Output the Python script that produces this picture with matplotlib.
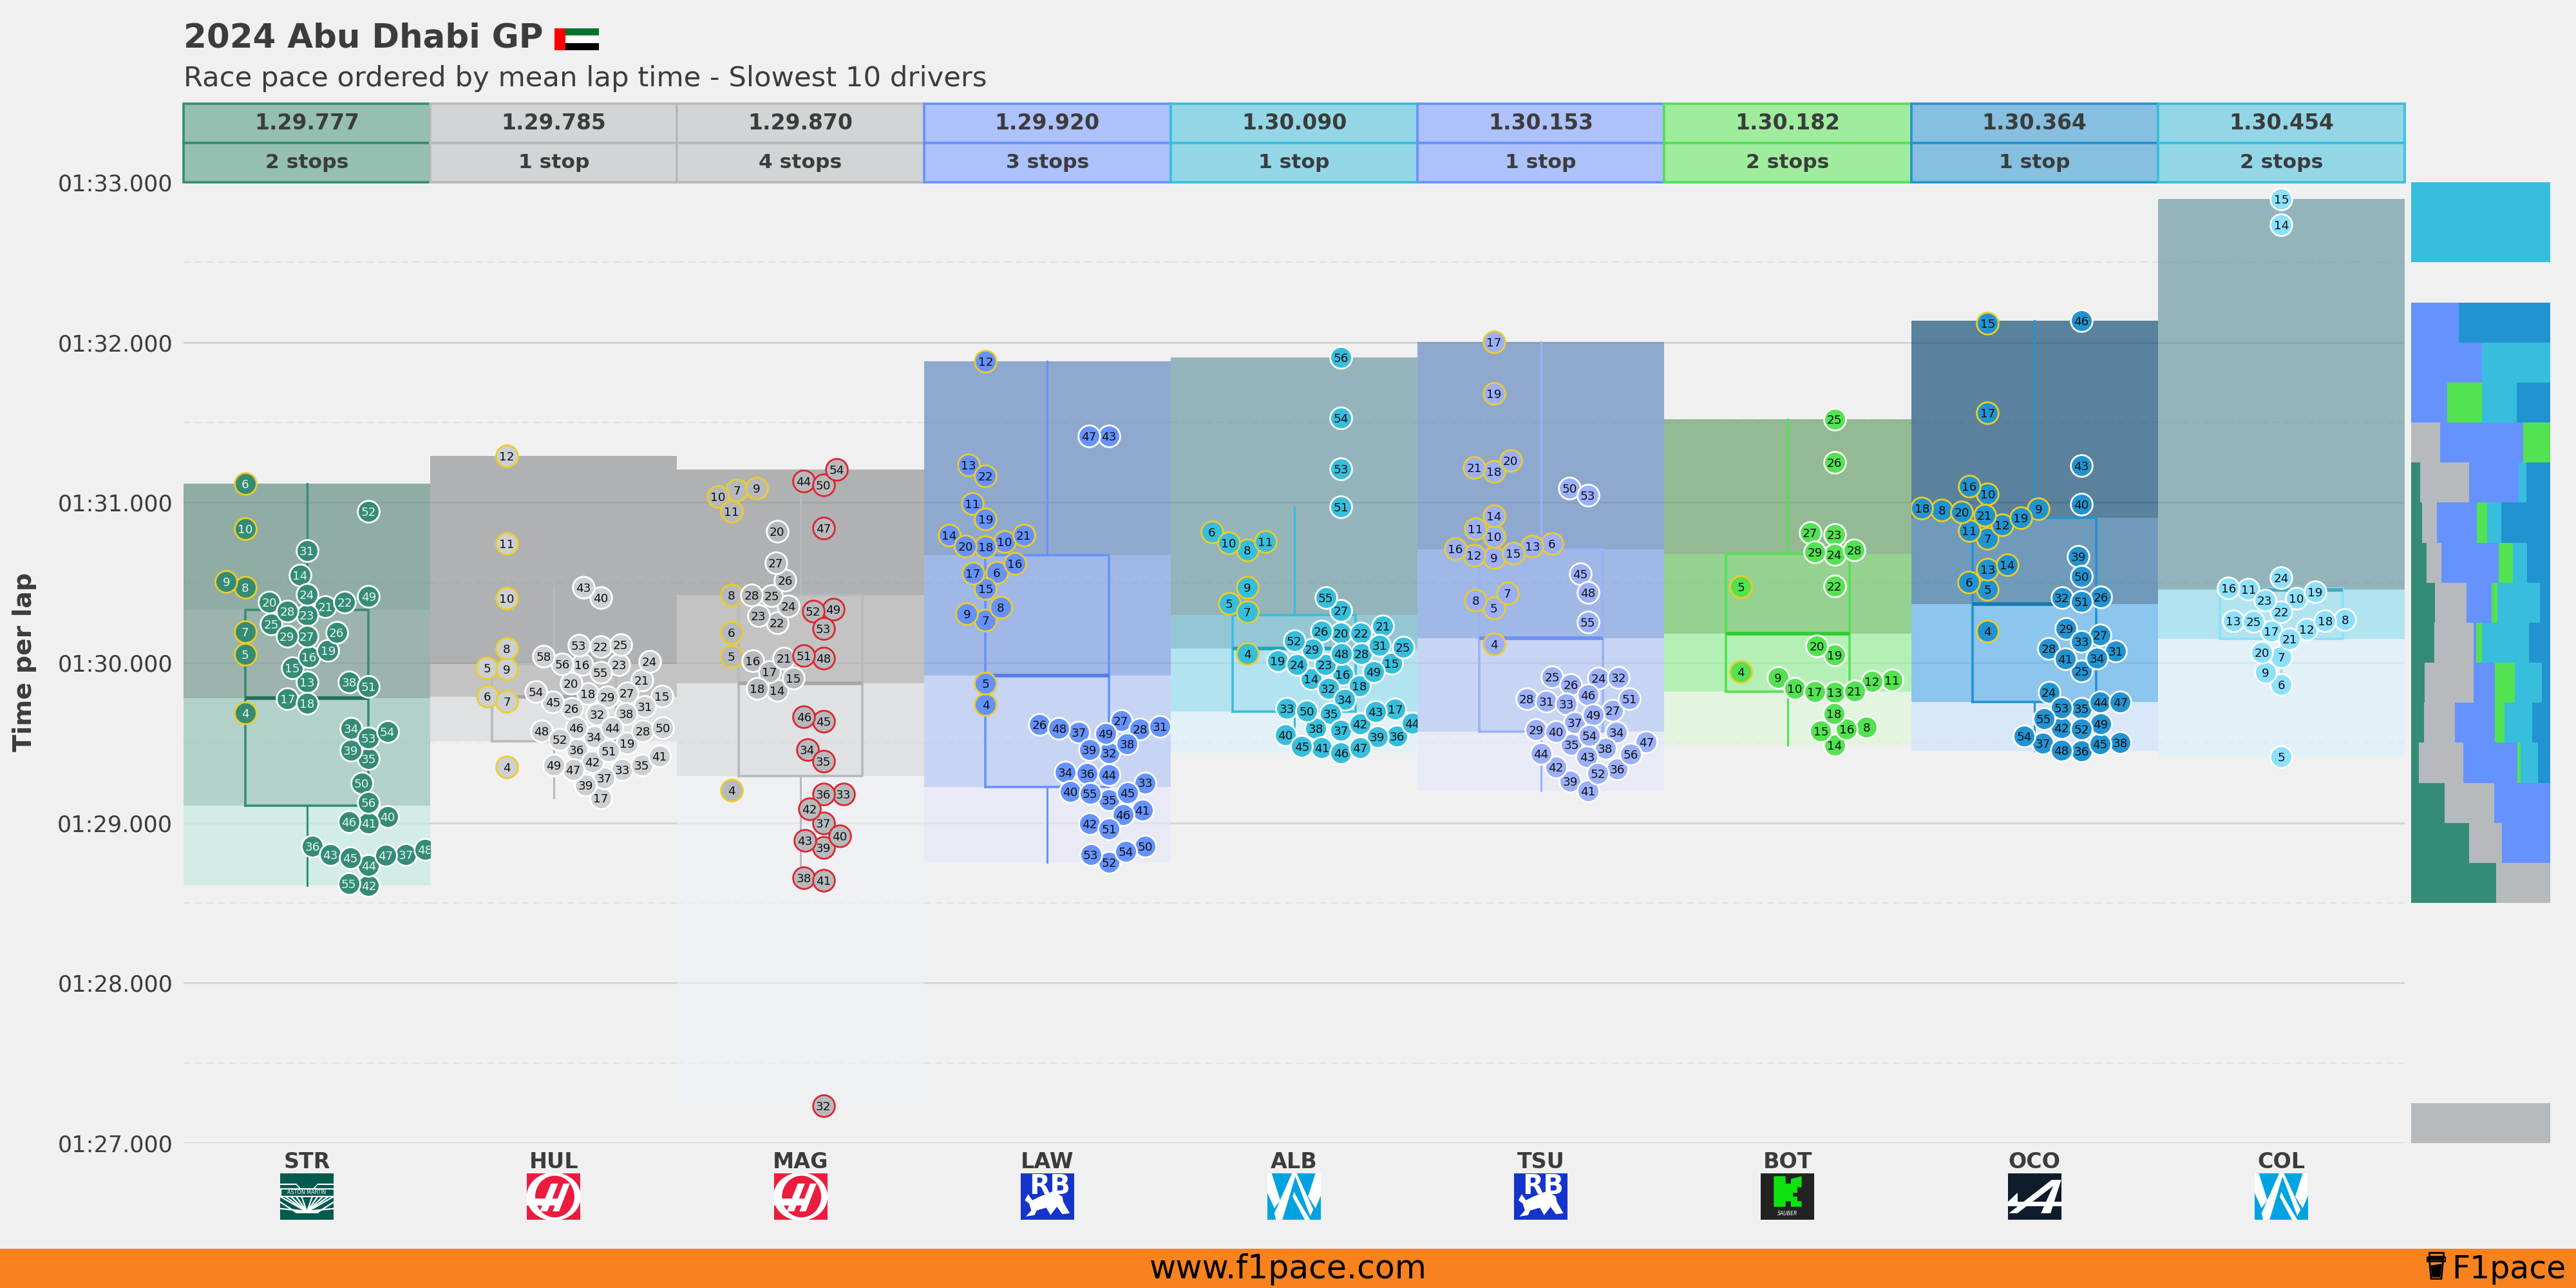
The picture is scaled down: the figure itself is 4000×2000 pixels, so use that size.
import numpy as np
import matplotlib
matplotlib.use("Agg")
import matplotlib.pyplot as plt
from matplotlib.patches import Ellipse, Polygon, Rectangle
from matplotlib.ticker import FuncFormatter, MultipleLocator

W, H = 4000, 2000
BG = "#f0f0f0"
TXT = "#3c3c3c"

# lap numbers and lap times (s), one pair of lists per stint
str_laps_1 = [6, 10, 9, 8, 7, 5, 4]
str_times_1 = [91.119, 90.836, 90.506, 90.469, 90.193, 90.051, 89.686]
str_laps_2 = [31, 14, 24, 22, 20, 21, 28, 23, 25, 26, 29, 27, 19, 16, 15, 13, 17, 18]
str_times_2 = [90.699, 90.545, 90.428, 90.379, 90.377, 90.348, 90.322, 90.299, 90.242, 90.189, 90.164, 90.164,
               90.076, 90.035, 89.967, 89.881, 89.775, 89.748]
str_laps_3 = [52, 49, 38, 51, 34, 54, 53, 39, 35, 50, 56, 40, 46, 41, 36, 48, 37, 43, 47, 45, 44, 55, 42]
str_times_3 = [90.947, 90.414, 89.879, 89.850, 89.590, 89.570, 89.529, 89.455, 89.400, 89.246, 89.129, 89.039,
               89.008, 88.998, 88.855, 88.834, 88.801, 88.803, 88.799, 88.781, 88.734, 88.621, 88.607]

hul_laps_1 = [12, 11, 10, 8, 5, 9, 6, 7, 4]
hul_times_1 = [91.289, 90.744, 90.402, 90.090, 89.969, 89.961, 89.789, 89.760, 89.350]
hul_laps_2 = [43, 40, 25, 53, 22, 58, 24, 56, 23, 16, 55, 21, 20, 54, 27, 18, 15, 29, 45, 31, 26, 38, 32, 46, 50,
              44, 28, 48, 34, 52, 19, 36, 51, 41, 42, 35, 49, 33, 47, 37, 39, 17]
hul_times_2 = [90.471, 90.406, 90.113, 90.109, 90.102, 90.041, 90.008, 89.990, 89.988, 89.986, 89.941, 89.893,
               89.873, 89.820, 89.809, 89.807, 89.789, 89.785, 89.756, 89.727, 89.715, 89.684, 89.678, 89.594,
               89.594, 89.594, 89.574, 89.574, 89.537, 89.520, 89.498, 89.457, 89.451, 89.416, 89.379, 89.359,
               89.361, 89.334, 89.334, 89.279, 89.236, 89.154]

mag_laps_1 = [7, 9, 10, 11, 8, 6, 5, 4]
mag_times_1 = [91.078, 91.090, 91.037, 90.945, 90.424, 90.189, 90.041, 89.203]
mag_laps_2 = [20, 27, 26, 28, 25, 24, 23, 22, 19, 21, 16, 17, 15, 18, 14]
mag_times_2 = [90.822, 90.625, 90.514, 90.422, 90.420, 90.352, 90.295, 90.250, 90.041, 90.029, 90.012, 89.943,
               89.902, 89.838, 89.828]
mag_laps_3 = [54, 44, 50, 47, 49, 52, 53, 51, 48, 46, 45, 34, 35, 33, 36, 42, 37, 40, 43, 39, 38, 41, 32]
mag_times_3 = [91.205, 91.133, 91.111, 90.842, 90.332, 90.322, 90.215, 90.043, 90.029, 89.662, 89.635, 89.459,
               89.385, 89.178, 89.178, 89.088, 88.998, 88.920, 88.891, 88.846, 88.656, 88.641, 87.234]

law_laps_1 = [12, 13, 22, 11, 19, 21, 14, 10, 20, 18, 16, 6, 17, 15, 8, 9, 7, 5, 4]
law_times_1 = [91.884, 91.234, 91.168, 90.992, 90.898, 90.797, 90.797, 90.758, 90.727, 90.723, 90.621, 90.564,
               90.557, 90.461, 90.346, 90.305, 90.264, 89.871, 89.740]
law_laps_2 = [43, 47, 27, 26, 31, 48, 28, 37, 49, 38, 39, 32, 34, 36, 44, 33, 40, 45, 55, 35, 41, 46, 42, 51, 50,
              54, 53, 52]
law_times_2 = [91.416, 91.416, 89.639, 89.615, 89.600, 89.588, 89.586, 89.564, 89.559, 89.492, 89.459, 89.436,
               89.316, 89.307, 89.299, 89.250, 89.195, 89.189, 89.184, 89.143, 89.080, 89.051, 88.994, 88.961,
               88.852, 88.820, 88.803, 88.752]

alb_laps_1 = [6, 11, 10, 8, 9, 5, 7, 4]
alb_times_1 = [90.815, 90.757, 90.747, 90.704, 90.470, 90.370, 90.317, 90.058]
alb_laps_2 = [56, 54, 53, 51, 55, 27, 21, 26, 22, 20, 52, 31, 25, 29, 48, 28, 19, 15, 24, 23, 49, 16, 14, 18, 32,
              34, 33, 17, 50, 43, 35, 44, 42, 38, 37, 40, 36, 39, 45, 41, 47, 46]
alb_times_2 = [91.907, 91.528, 91.210, 90.972, 90.407, 90.327, 90.231, 90.198, 90.185, 90.183, 90.136, 90.108,
               90.097, 90.083, 90.058, 90.058, 90.013, 89.995, 89.989, 89.987, 89.944, 89.927, 89.899, 89.856,
               89.839, 89.769, 89.714, 89.710, 89.700, 89.696, 89.683, 89.622, 89.616, 89.589, 89.577, 89.548,
               89.540, 89.536, 89.476, 89.470, 89.470, 89.437]

tsu_laps_1 = [17, 19, 20, 21, 18, 14, 11, 10, 6, 13, 16, 15, 12, 9, 7, 8, 5, 4]
tsu_times_1 = [92.003, 91.679, 91.263, 91.218, 91.194, 90.917, 90.835, 90.790, 90.745, 90.726, 90.712, 90.683,
               90.673, 90.657, 90.435, 90.390, 90.343, 90.116]
tsu_laps_2 = [50, 53, 45, 48, 55, 25, 32, 24, 26, 46, 28, 51, 31, 33, 27, 49, 37, 29, 40, 34, 54, 47, 35, 38, 44,
              56, 43, 42, 36, 52, 39, 41]
tsu_times_2 = [91.091, 91.044, 90.556, 90.440, 90.255, 89.911, 89.907, 89.905, 89.864, 89.800, 89.776, 89.774,
               89.757, 89.741, 89.704, 89.673, 89.628, 89.583, 89.569, 89.567, 89.544, 89.505, 89.491, 89.464,
               89.431, 89.427, 89.413, 89.347, 89.335, 89.308, 89.261, 89.200]

bot_laps_1 = [5, 4]
bot_times_1 = [90.475, 89.945]
bot_laps_2 = [25, 26, 27, 23, 28, 29, 24, 22, 20, 19, 9, 11, 12, 10, 21, 17, 13, 18, 8, 16, 15, 14]
bot_times_2 = [91.520, 91.252, 90.814, 90.801, 90.703, 90.693, 90.674, 90.477, 90.105, 90.047, 89.906, 89.893,
               89.885, 89.838, 89.824, 89.820, 89.816, 89.682, 89.596, 89.584, 89.574, 89.484]

oco_laps_1 = [15, 17, 16, 10, 18, 9, 8, 20, 21, 19, 12, 11, 7, 14, 13, 6, 5, 4]
oco_times_1 = [92.119, 91.561, 91.100, 91.053, 90.965, 90.961, 90.955, 90.941, 90.922, 90.904, 90.861, 90.826,
               90.775, 90.611, 90.584, 90.504, 90.459, 90.197]
oco_laps_2 = [46, 43, 40, 39, 50, 26, 32, 51, 29, 27, 33, 28, 31, 34, 41, 25, 24, 47, 44, 53, 35, 55, 49, 42, 52,
              54, 38, 37, 45, 48, 36]
oco_times_2 = [92.135, 91.232, 90.988, 90.662, 90.539, 90.412, 90.406, 90.381, 90.213, 90.172, 90.133, 90.090,
               90.074, 90.027, 90.023, 89.949, 89.816, 89.756, 89.754, 89.719, 89.715, 89.650, 89.619, 89.592,
               89.584, 89.541, 89.500, 89.498, 89.492, 89.455, 89.449]

col_laps_1 = [15, 14, 24, 16, 11, 19, 10, 23, 22, 8, 13, 18, 25, 12, 17, 21, 20, 7, 9, 6, 5]
col_times_1 = [92.895, 92.735, 90.531, 90.466, 90.460, 90.442, 90.402, 90.389, 90.319, 90.269, 90.263, 90.260,
               90.257, 90.211, 90.199, 90.149, 90.066, 90.035, 89.940, 89.863, 89.411]

drivers = ["STR", "HUL", "MAG", "LAW", "ALB", "TSU", "BOT", "OCO", "COL"]
median_labels = ["1.29.777", "1.29.785", "1.29.870", "1.29.920", "1.30.090", "1.30.153", "1.30.182", "1.30.364", "1.30.454"]
stop_labels = ["2 stops", "1 stop", "4 stops", "3 stops", "1 stop", "1 stop", "2 stops", "1 stop", "2 stops"]

# box stats (s)
lap_max = [91.119, 91.289, 91.205, 91.884, 91.907, 92.003, 91.520, 92.135, 92.895]
q3 = [90.328, 89.990, 90.424, 90.672, 90.296, 90.708, 90.678, 90.904, 90.462]
median = [89.777, 89.785, 89.870, 89.920, 90.090, 90.153, 90.182, 90.364, 90.454]
q1 = [89.107, 89.508, 89.293, 89.225, 89.695, 89.569, 89.820, 89.756, 90.150]
lap_min = [88.607, 89.154, 87.234, 88.752, 89.437, 89.200, 89.484, 89.449, 89.411]
whisker_hi = [91.119, 90.471, 91.205, 91.884, 90.972, 92.003, 91.520, 92.135, 90.531]
whisker_lo = [88.607, 89.154, 88.641, 88.752, 89.437, 89.200, 89.484, 89.449, 89.863]

# share of laps per team in each time bin, right hand panel
bin_lows = [87.0, 88.5, 88.75, 89.0, 89.25, 89.5, 89.75, 90.0, 90.25, 90.5, 90.75, 91.0, 91.25, 91.5, 91.75, 92.0, 92.5, 92.75]
share_aston = [0, .609, .418, .242, .056, .091, .095, .168, .172, .112, .081, .066, 0, 0, 0, 0, 0, 0]
share_haas = [1, .391, .236, .354, .319, .222, .352, .282, .224, .104, .106, .352, .207, 0, 0, 0, 0, 0]
share_rb = [0, 0, .346, .404, .389, .288, .157, .019, .184, .414, .286, .354, .6, .257, .509, .342, 0, 0]
share_kick = [0, 0, 0, 0, .023, .068, .141, .041, .041, .101, .072, 0, .193, .253, 0, 0, 0, 0]
share_williams = [0, 0, 0, 0, .124, .203, .193, .337, .306, .104, .104, .058, 0, .248, .491, 0, 1, 1]
share_alpine = [0, 0, 0, 0, .089, .128, .062, .153, .072, .166, .352, .168, 0, .242, 0, .658, 0, 0]

all_stints = [
    [(str_laps_1, str_times_1), (str_laps_2, str_times_2), (str_laps_3, str_times_3)],
    [(hul_laps_1, hul_times_1), (hul_laps_2, hul_times_2)],
    [(mag_laps_1, mag_times_1), (mag_laps_2, mag_times_2), (mag_laps_3, mag_times_3)],
    [(law_laps_1, law_times_1), (law_laps_2, law_times_2)],
    [(alb_laps_1, alb_times_1), (alb_laps_2, alb_times_2)],
    [(tsu_laps_1, tsu_times_1), (tsu_laps_2, tsu_times_2)],
    [(bot_laps_1, bot_times_1), (bot_laps_2, bot_times_2)],
    [(oco_laps_1, oco_times_1), (oco_laps_2, oco_times_2)],
    [(col_laps_1, col_times_1)],
]
stint_centers = [(-.25, 0, .25), (-.19, .19), (-.28, -.095, .093), (-.25, .25), (-.19, .19), (-.19, .19), (-.19, .19), (-.19, .19), (0,)]
stint_edges = [("#eccd27", "white", "white"), ("#eccd27", "white"), ("#eccd27", "white", "#e0242e"), ("#eccd27", "white"),
               ("#eccd27", "white"), ("#eccd27", "white"), ("#eccd27", "white"), ("#eccd27", "white"), ("white",)]

dot_colors = ["#358c75", "#cdd0d3", "#b6babd", "#6692ff", "#37bedd", "#9cb0fa", "#52e252", "#2293d1", "#8ce0fc"]
line_colors = ["#358c75", "#b6babd", "#b6babd", "#6692ff", "#37bedd", "#9cb0fa", "#52e252", "#2293d1", "#8ce0fc"]
median_colors = ["#1f6f5a", "#a3a7aa", "#a3a7aa", "#4f7df0", "#1fa5c4", "#6f8ff5", "#30cc30", "#1479b0", "#4aa9bf"]
head_fill = ["#94bfb1", "#d2d5d6", "#d2d5d6", "#adc1fa", "#93d7e7", "#adc1fa", "#9fec9f", "#86bfdf", "#93d7e7"]
head_edge = ["#358c75", "#b6babd", "#b6babd", "#6692ff", "#37bedd", "#6692ff", "#52e252", "#2293d1", "#37bedd"]
dot_text = ["#e6f2ee"] + ["#111111"] * 8

# band colours, top to bottom
band_colors = [
    ["#90ada6", "#9cb5ae", "#b3d2c9", "#d3ede6"],
    ["#b0b1b3", "#c4c4c4", "#e0e1e3", "#f0f0f2"],
    ["#b0b1b3", "#c4c4c4", "#e0e1e3", "#eff0f3"],
    ["#90a9ce", "#a0b8e6", "#c8d4f4", "#e9ebf6"],
    ["#94b4bb", "#94c8d6", "#b3e3f0", "#e2f1f7"],
    ["#90a9ce", "#a0b8e6", "#c8d4f4", "#e9ebf6"],
    ["#94bb94", "#95d390", "#b5f0b6", "#e3f6e0"],
    ["#5b829c", "#6f9bbb", "#8cc5ee", "#dae8fb"],
    ["#94b4bb", "#94c8d6", "#b3e3f0", "#e2f1f7"],
]

COL_L, COL_R = 285, 3734
COL_W = (COL_R - COL_L) / 9
TOP, BOTTOM = 283, 1775
PX_PER_S = (BOTTOM - TOP) / 6
SWARM_D = 31
BAND_A = 0.65


def rect(x0, y0, x1, y1):
    return [x0 / W, 1 - y1 / H, (x1 - x0) / W, (y1 - y0) / H]


def see_through(color, a=BAND_A):
    c = np.array(matplotlib.colors.to_rgb(color))
    b = np.array(matplotlib.colors.to_rgb(BG))
    return tuple(np.clip((c - (1 - a) * b) / a, 0, 1))


def swarm(times):
    # closest free spot to the centre, going from the fastest lap up
    order = np.argsort(times)
    ys = np.array(times) * PX_PER_S
    xs = np.zeros(len(times))
    done = []
    for i in order:
        cands = [0.0]
        for j in done:
            dy = abs(ys[i] - ys[j])
            if dy < SWARM_D:
                dx = np.sqrt(SWARM_D ** 2 - dy ** 2)
                cands += [xs[j] - dx, xs[j] + dx]
        cands.sort(key=abs)
        for c in cands:
            if all((c - xs[j]) ** 2 + (ys[i] - ys[j]) ** 2 >= SWARM_D ** 2 - 1e-6 for j in done):
                xs[i] = c
                break
        done.append(i)
    return xs / COL_W


def logo_axes(i):
    c = COL_L + COL_W * (i + .5)
    a = fig.add_axes(rect(c - 41.5, 1822, c + 41.5, 1894))
    a.set_xlim(0, 1)
    a.set_ylim(0, 1)
    a.axis("off")
    return a


def poly(a, pts, color):
    a.add_patch(Polygon(pts, closed=True, facecolor=color, edgecolor="none"))


def logo_aston(a):
    a.add_patch(Rectangle((0, 0), 1, 1, color="#005a4e"))
    poly(a, [(0, .78), (.3, .78), (.38, .68), (.62, .68), (.7, .78), (1, .78), (1, .75), (.7, .75), (.62, .64), (.38, .64), (.3, .75), (0, .75)], "white")
    a.add_patch(Rectangle((0, .52), 1, .14, color="white"))
    a.add_patch(Rectangle((.03, .535), .94, .11, color="#005a4e"))
    a.text(.5, .59, "ASTON MARTIN", color="white", fontsize=2.9, ha="center", va="center")
    for x in [.0, .1, .2, .3, .4, .6, .7, .8, .9, 1.0]:
        a.plot([.5, x], [.17, .5], color="white", lw=.8)
    for x0, x1, y0, y1 in [(0, .3, .38, .16), (1, .7, .38, .16), (0, .36, .24, .2), (1, .64, .24, .2)]:
        a.plot([x0, x1], [y0, y1], color="white", lw=.8)
    a.add_patch(Rectangle((.3, .16), .4, .03, color="white"))


def logo_haas(a):
    a.add_patch(Rectangle((0, 0), 1, 1, color="#ec1c3e"))
    a.add_patch(Ellipse((.5, .5), .98, 1.0, color="white"))
    a.add_patch(Ellipse((.52, .5), .7, .86, color="#ec1c3e"))
    a.add_patch(Rectangle((0, .33), .62, .11, color="white"))
    poly(a, [(.24, .18), (.38, .18), (.58, .78), (.45, .78)], "white")
    poly(a, [(.48, .18), (.6, .18), (.8, .78), (.68, .78)], "white")


def logo_rb(a):
    a.add_patch(Rectangle((0, 0), 1, 1, color="#1534cc"))
    a.text(.54, .72, "RB", color="white", fontsize=15, fontweight="bold", ha="center", va="center")
    poly(a, [(.1, .07), (.2, .2), (.16, .35), (.08, .42), (.14, .55), (.22, .42), (.36, .5), (.62, .62), (.78, .5),
             (.8, .38), (.92, .14), (.78, .12), (.68, .28), (.56, .1), (.48, .26), (.3, .2), (.26, .1)], "white")


def logo_williams(a):
    a.add_patch(Rectangle((0, 0), 1, 1, color="#00a3e0"))
    poly(a, [(0, 1), (.08, 1), (.24, .42), (.13, .25), (0, .58)], "white")
    poly(a, [(.46, 1), (.54, 1), (.28, 0), (.16, 0), (.13, .14)], "white")
    poly(a, [(.5, .6), (.58, .42), (.8, 0), (.7, 0), (.47, .5)], "white")
    poly(a, [(.5, 1), (.55, 1), (.86, .22), (.8, .08)], "white")
    poly(a, [(.9, 1), (1, 1), (1, .52), (.9, .25), (.76, .5)], "white")


def logo_kick(a):
    a.add_patch(Rectangle((0, 0), 1, 1, color="#222222"))
    poly(a, [(.24, .28), (.24, .94), (.46, .94), (.46, .78), (.56, .78), (.56, .88), (.76, .94), (.76, .7), (.68, .7),
             (.68, .58), (.6, .58), (.6, .5), (.68, .5), (.68, .4), (.76, .4), (.76, .28), (.56, .28), (.56, .4),
             (.46, .4), (.46, .28)], "#0fe30f")
    a.text(.5, .13, "SAUBER", color="white", fontsize=2.8, fontstyle="italic", ha="center", va="center")


def logo_alpine(a):
    a.add_patch(Rectangle((0, 0), 1, 1, color="#0f1c2c"))
    poly(a, [(.02, .14), (.18, .14), (1, .86), (.82, .86)], "white")
    poly(a, [(.62, .14), (.8, .14), (1, .86), (.9, .86)], "white")
    poly(a, [(0, .29), (1, .29), (1, .39), (0, .39)], "white")
    poly(a, [(0, .39), (.18, .39), (.18, .58)], "white")


# figure
fig = plt.figure(figsize=(20, 10), dpi=200, facecolor=BG)
plt.rcParams["font.family"] = "DejaVu Sans"

for i, name in enumerate(drivers):
    x0 = COL_L + COL_W * i
    ax = fig.add_axes(rect(x0, TOP, x0 + COL_W, BOTTOM))
    ax.set_facecolor("none")
    ax.set_xlim(-.5, .5)
    ax.set_ylim(87, 93)
    for s in ax.spines.values():
        s.set_visible(False)
    ax.yaxis.set_major_locator(MultipleLocator(1))
    ax.yaxis.set_minor_locator(MultipleLocator(.5))
    ax.set_axisbelow(True)
    ax.grid(which="major", axis="y", color="#d5d5d5", lw=1.1)
    ax.grid(which="minor", axis="y", color="#e2e2e2", lw=.8, ls=(0, (5, 3)))
    ax.tick_params(which="both", length=0, left=False, bottom=False, labelbottom=False)
    ax.set_xticks([])
    if i == 0:
        ax.yaxis.set_major_formatter(FuncFormatter(lambda v, p: f"01:{int(round(v)) - 60:02d}.000"))
        ax.tick_params(axis="y", labelsize=12.6, labelcolor=TXT, pad=6)
    else:
        ax.tick_params(axis="y", labelleft=False)

    # quartile bands
    edges = [lap_max[i], q3[i], median[i], q1[i], lap_min[i]]
    for k in range(4):
        ax.bar(0, edges[k] - edges[k + 1], bottom=edges[k + 1], width=1,
               color=see_through(band_colors[i][k]), alpha=BAND_A, zorder=1, linewidth=0)

    stats = [dict(med=median[i], q1=q1[i], q3=q3[i], whislo=whisker_lo[i], whishi=whisker_hi[i], fliers=[])]
    ax.bxp(stats, positions=[0], widths=[.5], showcaps=False, showfliers=False, manage_ticks=False,
           boxprops=dict(color=line_colors[i], lw=1.3), whiskerprops=dict(color=line_colors[i], lw=1.1),
           medianprops=dict(color=median_colors[i], lw=2), zorder=3)

    # lap dots, later laps on top
    for (laps, times), center, edge in zip(all_stints[i], stint_centers[i], stint_edges[i]):
        offs = swarm(times)
        for lap, t, off in zip(laps, times, offs):
            ax.scatter(center + off, t, s=148, color=dot_colors[i], edgecolors=edge, linewidths=1, zorder=5 + lap * .01, clip_on=True)
            ax.text(center + off, t, str(lap), fontsize=6.6, color=dot_text[i], ha="center", va="center_baseline",
                    zorder=5.005 + lap * .01, clip_on=True)

    # header cells
    hx = fig.add_axes(rect(x0, 161, x0 + COL_W, 283))
    hx.set_xlim(0, 1)
    hx.set_ylim(0, 2)
    hx.axis("off")
    hx.barh([1.5, .5], [1, 1], height=1, color=head_fill[i], edgecolor=head_edge[i], linewidth=1.3, clip_on=False)
    hx.text(.5, 1.5, median_labels[i], color=TXT, fontsize=11.9, fontweight="bold", ha="center", va="center")
    hx.text(.5, .5, stop_labels[i], color=TXT, fontsize=11.3, fontweight="bold", ha="center", va="center")

    fig.text((x0 + COL_W / 2) / W, 1 - 1805 / H, name, color=TXT, fontsize=12, fontweight="bold", ha="center", va="center")

logo_aston(logo_axes(0))
logo_haas(logo_axes(1))
logo_haas(logo_axes(2))
logo_rb(logo_axes(3))
logo_williams(logo_axes(4))
logo_rb(logo_axes(5))
logo_kick(logo_axes(6))
logo_alpine(logo_axes(7))
logo_williams(logo_axes(8))

# right hand panel
ax_bins = fig.add_axes(rect(3744, TOP, 3960, BOTTOM))
ax_bins.set_xlim(0, 1)
ax_bins.set_ylim(87, 93)
ax_bins.axis("off")
left = np.zeros(len(bin_lows))
team_shares = [share_aston, share_haas, share_rb, share_kick, share_williams, share_alpine]
team_colors = ["#358c75", "#b6babd", "#6692ff", "#52e252", "#37bedd", "#2293d1"]
for share, color in zip(team_shares, team_colors):
    ax_bins.barh(bin_lows, share, height=.25, left=left, align="edge", color=color, linewidth=0)
    left += np.array(share)

# titles
fig.text(285 / W, 1 - 60 / H, "2024 Abu Dhabi GP", color=TXT, fontsize=18.5, fontweight="bold", ha="left", va="center")
fig.text(285 / W, 1 - 122 / H, "Race pace ordered by mean lap time - Slowest 10 drivers", color=TXT, fontsize=15.6, ha="left", va="center")
fig.text(38 / W, 1 - 1028 / H, "Time per lap", color=TXT, fontsize=14.2, fontweight="bold", rotation=90, ha="center", va="center")

flag = fig.add_axes(rect(861, 44, 930, 78))
flag.set_xlim(0, 4)
flag.set_ylim(0, 3)
flag.axis("off")
flag.barh([2.5, 1.5, .5], [3, 3, 3], height=1, left=1, color=["#00732f", "white", "black"], linewidth=0)
flag.bar(.5, 3, width=1, color="#ff0000", linewidth=0, align="center")

# footer
foot = fig.add_axes(rect(0, 1939, 4000, 2000))
foot.set_xlim(0, 1)
foot.set_ylim(0, 1)
foot.axis("off")
foot.add_patch(Rectangle((0, 0), 1, 1, color="#f7821e"))
fig.text(2000 / W, 1 - 1971 / H, "www.f1pace.com", color="black", fontsize=18.2, ha="center", va="center")
fig.text(3985 / W, 1 - 1971 / H, "F1pace", color="black", fontsize=17.6, ha="right", va="center")

cup = fig.add_axes(rect(3768, 1943, 3798, 1987))
cup.set_xlim(0, 1)
cup.set_ylim(0, 1)
cup.axis("off")
cup.add_patch(Polygon([(.14, .72), (.86, .72), (.76, .02), (.24, .02)], closed=True, facecolor="none", edgecolor="black", lw=1))
cup.add_patch(Polygon([(.22, .5), (.78, .56), (.71, .08), (.29, .08)], closed=True, facecolor="black", edgecolor="none"))
cup.add_patch(Rectangle((.02, .66), .96, .14, facecolor="none", edgecolor="black", lw=1))
cup.add_patch(Rectangle((.14, .82), .72, .14, facecolor="none", edgecolor="black", lw=1))

fig.savefig("out.png", dpi=200, facecolor=BG)
